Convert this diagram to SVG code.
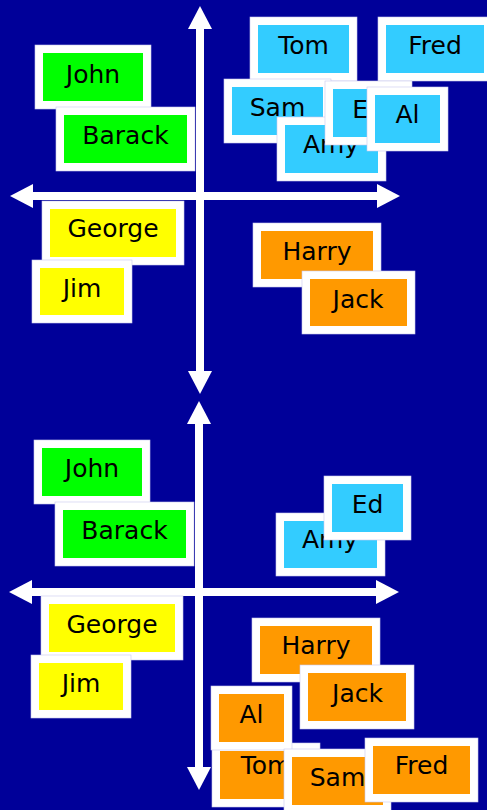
<svg xmlns="http://www.w3.org/2000/svg" width="487" height="810" viewBox="0 0 487 810">
<style>
.o{fill:#ffffff;stroke:#c8c8ee;stroke-width:0.6}
.g{fill:#00ff00}.c{fill:#33ccff}.y{fill:#ffff00}.r{fill:#ff9900}
text{font-family:"Comic Sans MS","DejaVu Sans",sans-serif;font-size:25px;fill:#000000;text-anchor:middle}
.ax{stroke:#ffffff;stroke-width:8;fill:none}
</style>
<defs>
<marker id="ah" markerUnits="userSpaceOnUse" markerWidth="24" markerHeight="24" viewBox="0 0 23 24" refX="0" refY="12" orient="auto-start-reverse">
<polygon points="0,0 23,12 0,24" fill="#ffffff"/>
</marker>
</defs>
<rect width="487" height="810" fill="#000099"/>
<g id="connectors">
<line class="ax" x1="200" y1="29" x2="200" y2="371" marker-start="url(#ah)" marker-end="url(#ah)"/>
<line class="ax" x1="33" y1="196" x2="377" y2="196" marker-start="url(#ah)" marker-end="url(#ah)"/>
<line class="ax" x1="199" y1="424" x2="199" y2="767" marker-start="url(#ah)" marker-end="url(#ah)"/>
<line class="ax" x1="32" y1="592" x2="376" y2="592" marker-start="url(#ah)" marker-end="url(#ah)"/>
</g>
<g id="top-john"><rect class="o" x="35" y="45" width="116" height="64"/><rect class="g" x="43" y="53" width="100" height="48"/><text x="93" y="83">John</text></g>
<g id="top-barack"><rect class="o" x="56" y="107" width="139" height="64"/><rect class="g" x="64" y="115" width="123" height="48"/><text x="125.5" y="144">Barack</text></g>
<g id="top-tom"><rect class="o" x="250" y="17" width="107" height="64"/><rect class="c" x="258" y="25" width="91" height="48"/><text x="303.5" y="54">Tom</text></g>
<g id="top-fred"><rect class="o" x="378" y="17" width="112" height="64"/><rect class="c" x="386" y="25" width="98" height="48"/><text x="435" y="54">Fred</text></g>
<g id="top-sam"><rect class="o" x="224" y="79" width="107" height="64"/><rect class="c" x="232" y="87" width="91" height="48"/><text x="277.5" y="116">Sam</text></g>
<g id="top-amy"><rect class="o" x="277" y="117" width="109" height="64"/><rect class="c" x="285" y="125" width="93" height="48"/><text x="331" y="153">Amy</text></g>
<g id="top-ed"><rect class="o" x="325" y="81" width="87" height="64"/><rect class="c" x="333" y="89" width="71" height="48"/><text x="368" y="118">Ed</text></g>
<g id="top-al"><rect class="o" x="367" y="87" width="81" height="64"/><rect class="c" x="375" y="95" width="65" height="48"/><text x="407.5" y="123">Al</text></g>
<g id="top-george"><rect class="o" x="42" y="201" width="142" height="64"/><rect class="y" x="50" y="209" width="126" height="48"/><text x="113" y="237">George</text></g>
<g id="top-jim"><rect class="o" x="32" y="260" width="100" height="63"/><rect class="y" x="40" y="268" width="84" height="47"/><text x="82" y="297">Jim</text></g>
<g id="top-harry"><rect class="o" x="253" y="223" width="128" height="64"/><rect class="r" x="261" y="231" width="112" height="48"/><text x="317" y="260">Harry</text></g>
<g id="top-jack"><rect class="o" x="302" y="271" width="113" height="63"/><rect class="r" x="310" y="279" width="97" height="47"/><text x="358" y="308">Jack</text></g>
<g id="bot-john"><rect class="o" x="34" y="440" width="116" height="64"/><rect class="g" x="42" y="448" width="100" height="48"/><text x="92" y="477">John</text></g>
<g id="bot-barack"><rect class="o" x="55" y="502" width="139" height="64"/><rect class="g" x="63" y="510" width="123" height="48"/><text x="124.5" y="539">Barack</text></g>
<g id="bot-amy"><rect class="o" x="276" y="513" width="109" height="63"/><rect class="c" x="284" y="521" width="93" height="47"/><text x="330" y="548">Amy</text></g>
<g id="bot-ed"><rect class="o" x="324" y="476" width="87" height="64"/><rect class="c" x="332" y="484" width="71" height="48"/><text x="367.5" y="513">Ed</text></g>
<g id="bot-george"><rect class="o" x="41" y="596" width="142" height="64"/><rect class="y" x="49" y="604" width="126" height="48"/><text x="112" y="633">George</text></g>
<g id="bot-jim"><rect class="o" x="31" y="655" width="100" height="63"/><rect class="y" x="39" y="663" width="84" height="47"/><text x="81" y="692">Jim</text></g>
<g id="bot-harry"><rect class="o" x="252" y="618" width="128" height="64"/><rect class="r" x="260" y="626" width="112" height="48"/><text x="316" y="654">Harry</text></g>
<g id="bot-jack"><rect class="o" x="300" y="665" width="114" height="64"/><rect class="r" x="308" y="673" width="98" height="48"/><text x="357.5" y="702">Jack</text></g>
<g id="bot-tom"><rect class="o" x="212" y="743" width="108" height="64"/><rect class="r" x="220" y="751" width="92" height="48"/><text x="266" y="774">Tom</text></g>
<g id="bot-al"><rect class="o" x="211" y="686" width="81" height="64"/><rect class="r" x="219" y="694" width="65" height="48"/><text x="251.5" y="723">Al</text></g>
<g id="bot-sam"><rect class="o" x="284" y="749" width="107" height="64"/><rect class="r" x="292" y="757" width="91" height="48"/><text x="337.5" y="786">Sam</text></g>
<g id="bot-fred"><rect class="o" x="365" y="738" width="113" height="64"/><rect class="r" x="373" y="746" width="97" height="48"/><text x="421.5" y="774">Fred</text></g>
</svg>
